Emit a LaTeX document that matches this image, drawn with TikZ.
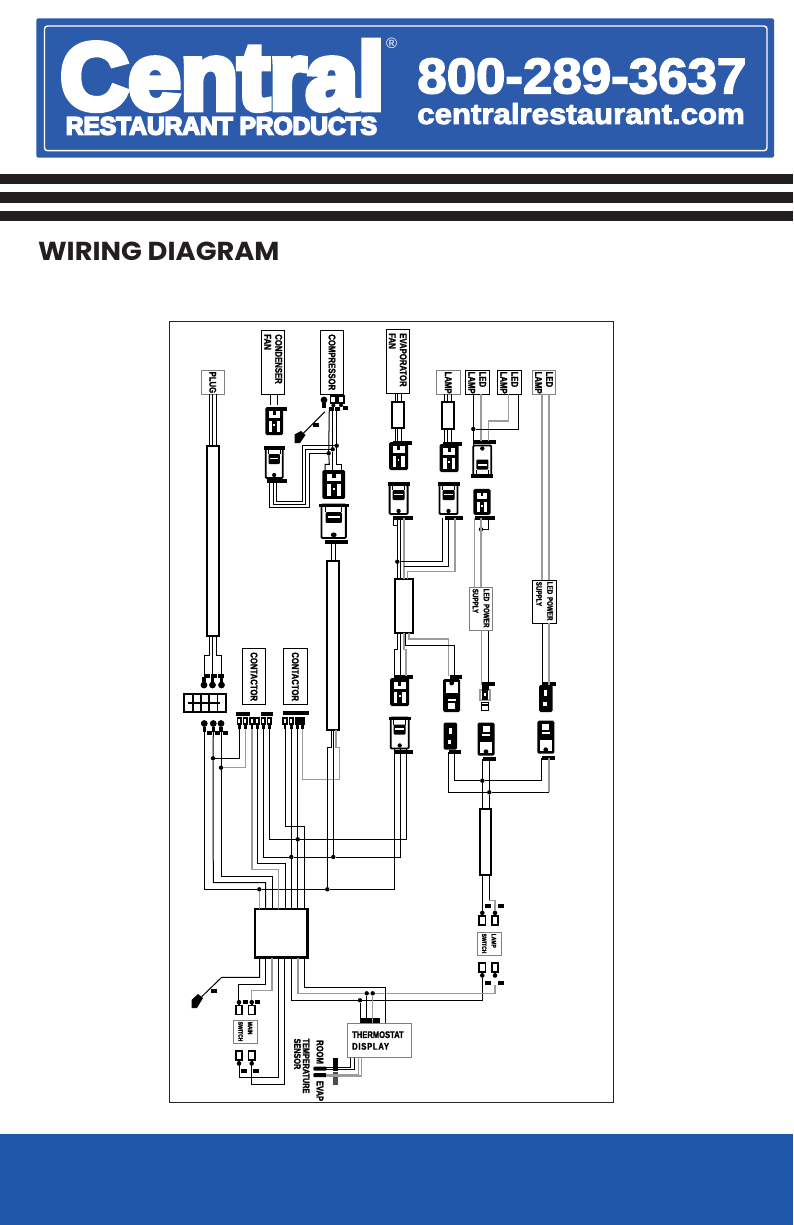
\documentclass[tikz,border=0pt]{standalone}
\usepackage{xcolor}
\usepackage{fontspec}
\newfontfamily\labelfont[FakeStretch=0.79, BoldFeatures={FakeBold=1.5}]{Liberation Sans}
\newfontfamily\logofont[BoldFeatures={FakeBold=3}]{Liberation Sans}
\newfontfamily\heavyfont[BoldFeatures={FakeBold=7}]{Liberation Sans}
\newfontfamily\titlefont{Poppins}
\definecolor{logoblue}{HTML}{2D5BAB}
\definecolor{bandblue}{HTML}{1F57AB}
\definecolor{stripe}{HTML}{231F20}
\definecolor{wiregrey}{HTML}{9C9C9C}
\usetikzlibrary{positioning}

\begin{document}
\begin{tikzpicture}[x=1pt, y=-1pt,
    every node/.style={outer sep=0pt},
    wire/.style={line width=1pt},
    greywire/.style={line width=1.2pt, wiregrey},
    unit/.style 2 args={rectangle, draw, rotate=-90, line width=.9pt, minimum width=#1, minimum height=#2, text width=#1-8, inner xsep=4pt, inner ysep=0pt, align=left, font=\labelfont\bfseries\fontsize{9.8}{11}\selectfont},
    switchbox/.style={rectangle, draw=gray, rotate=-90, line width=.9pt, minimum width=22.6, minimum height=24, text width=20.6, inner xsep=1pt, inner ysep=0pt, align=left, font=\labelfont\bfseries\fontsize{6.3}{9.6}\selectfont},
    bar/.style={rectangle, draw, line width=2pt, inner sep=0pt},
    dot/.style={circle, fill, inner sep=0pt, minimum size=4.4},
    logotext/.style={white, inner sep=0pt, anchor=base west},
    maleplug/.pic={
        \fill[rounded corners=1.5pt] (-9.5,2) rectangle (9.5,30);
        \fill[white] (-6,6) rectangle (6,13);
        \fill (-1.5,6) rectangle (1.5,10);
        \fill[white] (-6,16) rectangle (-2.5,27);
        \fill[white] (2.5,16) rectangle (6,27);
        \fill[white] (-.8,19) rectangle (.8,21);
    },
    femaleplug/.pic={
        \draw[line width=1.8pt, rounded corners=1pt, fill=white] (-9,1) rectangle (9,32);
        \fill (-11,0) rectangle (11,3.5);
        \draw[line width=.8pt] (-6,3) -- (-6,8) (6,3) -- (6,8);
        \fill[rounded corners=1pt] (-6,8) rectangle (6,18);
        \fill[white] (-4.5,11.8) rectangle (4.5,13.2);
        \fill (0,29) circle (2.2);
    },
    lockplug/.pic={
        \fill[rounded corners=1.5pt] (-8.5,0) rectangle (8.5,33);
        \fill[white] (-3.5,3) rectangle (3.5,9.5);
        \fill[white] (-4,11.5) rectangle (4,13.5);
        \fill[white] (-6,19) rectangle (6,30.5);
        \fill (0,29) circle (2.4);
    },
    darkplug/.pic={
        \fill[rounded corners=1.5pt] (-6.8,0) rectangle (6.8,27);
        \fill[white] (-1.5,5) rectangle (1.5,11);
        \fill[white] (-2.5,17) rectangle (1,21);
    },
    slimplug/.pic={
        \draw[wiregrey, line width=1.5pt, fill=white] (-5,5) rectangle (5,15);
        \fill (-3.5,0) rectangle (3.5,5);
        \fill (-3,5) rectangle (3,15);
        \fill[white] (-.8,8) rectangle (.8,11);
        \draw[line width=1pt] (-3.8,17) rectangle (3.8,25);
        \fill (-3.8,18.5) rectangle (3.8,20.5);
    },
    bulb/.pic={
        \fill (-1.8,0) rectangle (1.8,5);
        \fill (0,8) circle (3.4);
    },
    spade/.pic={
        \fill (-2.7,0) rectangle (2.7,8.5);
        \fill[white] (-1,2) rectangle (1,6);
        \fill (-1.4,8) rectangle (1.4,12);
    },
    swlug/.pic={
        \fill (0,2.2) circle (2.3);
        \fill (-1,2) rectangle (1,5);
        \draw[line width=1.7pt, fill=white] (-3.2,5.5) rectangle (3.2,14.5);
    }]

    \useasboundingbox (0,0) rectangle (793,1225);

    % Header
    \fill[logoblue, rounded corners=1.5pt] (36.4,18.3) rectangle (774,157.7);
    \draw[white, line width=1.4pt, rounded corners=3pt] (44.5,26) rectangle (767,150.7);
    \node[logotext, xscale=1] (brand) at (60.5,109) {\heavyfont\bfseries\fontsize{94}{94}\selectfont Central};
    \node[logotext, xscale=.98] (brandsub) at (65.8,134.5) {\heavyfont\bfseries\fontsize{25}{25}\selectfont RESTAURANT PRODUCTS};
    \node[logotext] (regmark) at (386,49) {\logofont\fontsize{15}{15}\selectfont ®};
    \node[logotext, xscale=1.057] (phone) at (417.3,93.3) {\logofont\bfseries\fontsize{50}{50}\selectfont 800-289-3637};
    \node[logotext, xscale=1.075] (website) at (417.3,124) {\logofont\bfseries\fontsize{29}{29}\selectfont centralrestaurant.com};
    \foreach \ya/\yb in {174/184, 192/202.7, 211/220.7}
        \fill[stripe] (0,\ya) rectangle (793,\yb);
    \node[inner sep=0pt, anchor=base west, stripe, xscale=1.05] (heading) at (38,260) {\titlefont\bfseries\fontsize{26}{26}\selectfont WIRING DIAGRAM};
    \fill[bandblue] (0,1134) rectangle (793,1225);
    \draw[line width=.9pt, black!85] (169,321) rectangle (613,1102);

    % Boxes
    \node[unit={64}{23}] (condenser) at (273.2,362.3) {CONDENSER\\FAN};
    \node[unit={64}{23.4}] (compressor) at (332,362.3) {COMPRESSOR};
    \node[unit={64}{23}] (evaporator) at (397.8,361.3) {EVAPORATOR\\FAN};
    \node[unit={23.3}{23}, draw=gray, inner xsep=1pt, text width=21.3] (plug) at (212.8,382.3) {PLUG};
    \node[unit={23.3}{23.3}, draw=gray, inner xsep=1pt, text width=21.3] (lamp) at (448.3,382.3) {LAMP};
    \node[unit={23.6}{23.3}, inner xsep=1pt, text width=21.6] (ledone) at (477.3,382.5) {LED\\LAMP};
    \node[unit={23.6}{24}, inner xsep=1pt, text width=21.6] (ledtwo) at (509.3,382.5) {LED\\LAMP};
    \node[unit={23.6}{23.4}, inner xsep=1pt, text width=21.6, draw=gray] (ledthree) at (544,382.5) {LED\\LAMP};
    \node[unit={43.4}{23.4}, draw=gray, inner xsep=1.5pt, text width=40.4, font=\labelfont\bfseries\fontsize{7.9}{11}\selectfont] (supplyone) at (481,609) {\mbox{LED POWER}\\SUPPLY};
    \node[unit={43}{23.6}, inner xsep=1.5pt, text width=40, font=\labelfont\bfseries\fontsize{7.9}{11}\selectfont] (supplytwo) at (544.5,601.8) {\mbox{LED POWER}\\SUPPLY};
    \node[unit={56}{23.4}] (contactorone) at (254,676.3) {CONTACTOR};
    \node[unit={56}{24}] (contactortwo) at (295.3,676.3) {CONTACTOR};
    \node[switchbox] (mainswitch) at (245.3,1032) {MAIN\\SWITCH};
    \node[switchbox] (lampswitch) at (489,944) {LAMP\\SWITCH};
    \node[rectangle, draw=gray, line width=.9pt, minimum width=64.3, minimum height=34.4, text width=54, inner xsep=5.2pt, inner ysep=0pt, align=left, font=\labelfont\bfseries\fontsize{9.6}{11.7}\selectfont] (thermostat) at (379.2,1040.5) {THERMOSTAT\\\addfontfeature{LetterSpace=8}DISPLAY};
    \node[rotate=-90, inner sep=0pt, font=\labelfont\bfseries\fontsize{9.6}{9}\selectfont] (roomlabel) at (320,1052) {ROOM};
    \node[rotate=-90, inner sep=0pt, font=\labelfont\bfseries\fontsize{9.6}{9}\selectfont] (evaplabel) at (320,1091) {EVAP};
    \node[rotate=-90, inner sep=0pt, align=left, font=\labelfont\bfseries\fontsize{9.2}{8.8}\selectfont] (sensorlabel) at (301.7,1066) {TEMPERATURE\\SENSOR};

    % Bars and hub
    \node[bar, minimum width=12.6, minimum height=190] (mainbar) at (213,541) {};
    \node[bar, minimum width=11.7, minimum height=169.5] (longbar) at (333.2,645.5) {};
    \node[bar, minimum width=17.8, minimum height=54.1] (evapbar) at (403.6,605.6) {};
    \node[bar, minimum width=11.3, minimum height=66.2] (lampbar) at (485.7,841.6) {};
    \node[bar, minimum width=12, minimum height=26.6] (fanbar) at (398.3,415) {};
    \node[bar, minimum width=12.3, minimum height=27.6] (globebar) at (447.8,415.5) {};
    \node[bar, minimum width=52.7, minimum height=48.7, line width=2.4pt] (hub) at (281.3,933.3) {};
    \node[bar, minimum width=41.7, minimum height=18.3] (block) at (204.8,703.2) {};
    \foreach \x in {192.7,200.7,209,217.3} {
        \draw[line width=1.6pt] (\x,694) -- (\x,712.4);
        \draw[line width=1.2pt] (\x-5,703) -- (\x+3,703);
    }

    % Plugs
    \pic[xscale=.93] at (274.2,405) {maleplug};
    \pic[xscale=.95] at (274.2,446) {femaleplug};
    \pic[xscale=1.2, yscale=1.03] at (333.7,468) {maleplug};
    \pic[xscale=1.35, yscale=1.08] at (333.7,503.5) {femaleplug};
    \pic at (398.6,440) {maleplug};
    \pic at (398.6,482) {femaleplug};
    \pic at (449,442) {maleplug};
    \pic at (448.5,482) {femaleplug};
    \pic[yscale=-1] at (482.3,477.5) {femaleplug};
    \pic[xscale=.9, yscale=.93] at (482,487) {maleplug};
    \pic at (399.7,676) {maleplug};
    \pic at (399.7,716.5) {femaleplug};
    \pic[yscale=-1] at (451.7,712) {lockplug};
    \pic at (450.3,722.5) {darkplug};
    \pic at (485,685) {slimplug};
    \pic at (486,722.7) {lockplug};
    \pic at (545.8,685) {darkplug};
    \pic at (545.8,720.7) {lockplug};

    % Terminals
    \foreach \x in {204,212.5,221.5} \pic at (\x,677) {bulb};
    \foreach \x in {204.3,213.3,221} \pic[yscale=-1] at (\x,731.5) {bulb};
    \foreach \x in {239.3,245.3,252,257.3,263.3,269.3,285,291.3,297.7,302.7} \pic at (\x,716.7) {spade};
    \fill (294.5,716.7) rectangle (305.4,725);
    \foreach \x in {239,251.7} {
        \pic at (\x,1000) {swlug};
        \pic[yscale=-1] at (\x,1065.7) {swlug};
    }
    \foreach \x in {482.3,495} {
        \pic at (\x,910.7) {swlug};
        \pic[yscale=-1] at (\x,977.7) {swlug};
    }
    \pic[yscale=-1] at (324,408) {bulb};
    \foreach \x in {333.3,341} \pic[yscale=-1, xscale=.9, yscale=.75] at (\x,407) {swlug};

    % Wire tags
    \foreach \x/\y/\w in {268/406.5/19, 266.7/479/20, 325/540/23.3, 329/407/5, 335/407/5, 343/406/5,
        393.3/441/18.5, 393.3/516/19.5, 443.3/442/18.3, 445/516/17.7, 473.3/439.5/22.3, 475/516/20,
        394/674.5/18.7, 395/749.5/18.3, 450/674.5/11.7, 449/749.5/12, 481.7/682/13.3, 482.7/756.5/13, 543.3/682/12.3, 541.7/755.5/13.3,
        236/711.5/14, 261/711.5/12, 283.3/711/26, 205/674/5, 210.5/674/6, 217.5/674/6, 206.7/731/5, 215/731/5, 222.7/731/5.7,
        485/903.5/6, 497.5/903.5/6, 485/980.5/6, 497.5/980.5/6, 242.5/999.5/5, 255/999.5/5, 241/1069/6, 253/1069/6,
        211/989/6, 313/423/5.5}
        \fill (\x,\y) rectangle ++(\w,4);
    \fill (360,1017.5) rectangle (380,1023);

    % Junctions
    \foreach \name/\pos in {hubA/{259.3,889.3}, hubB/{327.3,889.3}, hubC/{291.3,857}, hubD/{333.3,857}, hubE/{297.7,839.3},
        outA/{213,758.3}, outB/{221,767.7}, fanA/{328.7,453.3}, fanB/{332.7,449.3}, fanC/{336.7,445.7},
        evapA/{397.3,561.7}, ledA/{473.3,429}, ledB/{481,529.3}, lampA/{482.3,780.7}, lampB/{489.3,792.3},
        displayA/{360,1000.3}, displayB/{366.7,993.3}, displayC/{372.7,993.3}}
        \node[dot] (\name) at (\pos) {};

    % Named ends
    \coordinate (lowA) at (394.3,749);
    \coordinate (lowB) at (400.4,749);
    \coordinate (lowC) at (406.7,749);
    \foreach \n/\x in {A/239.3, B/245.3, C/252, D/257.3, E/263.3, F/269.3}
        \coordinate (coilone\n) at (\x,729);
    \foreach \n/\x in {A/285, B/291.3, C/297.7, D/302.7}
        \coordinate (coiltwo\n) at (\x,729);

    % Plug to block
    \foreach \x in {209.5,212.8,216}
        \draw[wire] (plug.east -| \x,0) -- (mainbar.north -| \x,0);
    \draw[wire] (mainbar.south -| 209.3,0) -- ++(0,19.3) -| (204.3,677);
    \draw[wire] (mainbar.south -| 212.8,0) -- (212.8,677);
    \draw[wire] (mainbar.south -| 216.5,0) -- ++(0,19.3) -| (221.5,677);

    % Block to hub and lower connector
    \draw[wire] (204.3,732) |- (hubA) -- (hubB) -| (lowA);
    \draw[wire] (213.3,732) -- (outA) -- (213.3,882.7) -| (hub.north -| 265.7,0);
    \draw[wire] (221,732) -- (outB) -- (221,876) -| (hub.north -| 272,0);
    \draw[greywire] (hubA) -- (hub.north -| hubA);
    \draw[wire] (coiloneA) |- (outA);
    \draw[greywire] (coiloneB) |- (outB);
    \draw[greywire] (coiloneC) |- (278.7,869.3) -- (hub.north -| 278.7,0);
    \draw[wire] (coiloneD) |- (285,863.3) -- (hub.north -| 285,0);
    \draw[wire] (coiloneE) |- (hubC) -- (hubD) -| (lowB);
    \draw[wire] (coiloneF) |- (hubE) -| (lowC);
    \draw[wire] (coiltwoA) |- (304.3,826.7) -- (hub.north -| 304.3,0);
    \draw[wire] (coiltwoB) -- (hub.north -| coiltwoB);
    \draw[wire] (coiltwoC) -- (hub.north -| coiltwoC);
    \draw[greywire] (coiltwoD) |- (339.7,779.3) |- (336,747.7) -- (longbar.south -| 336,0);
    \draw[wire] (longbar.south -| 331,0) -- ++(0,17.7) -| (hubB);
    \draw[wire] (longbar.south -| hubD) -- (hubD);

    % Hub lower side
    \coordinate (gndend) at (201.7,996.7);
    \draw[wire] (hub.south -| 259.7,0) |- (221.7,977.3) -- (gndend);
    \fill (198,994) -- (203,998) -- (197,1008) -- (191.5,1008) -- (191.5,1000) -- cycle;
    \draw[wire] (hub.south -| 265.7,0) |- (238.3,984.3) -- (238.3,1000);
    \draw[greywire] (hub.south -| 272,0) |- (251.7,990.7) -- (251.7,1000);
    \draw[wire] (hub.south -| 278.7,0) |- (239,1077.3) -- (239,1065);
    \draw[wire] (hub.south -| 284.7,0) |- (251.7,1084.3) -- (251.7,1065);
    \draw[wire] (hub.south -| 291.3,0) |- (displayA) -- (482.7,1000.3) -- (482.7,978);
    \draw[greywire] (hub.south -| 298,0) |- (displayB) -- (displayC) -| (495,985);
    \draw[wire] (hub.south -| 304.3,0) |- (385.7,987.3) -- (thermostat.north -| 385.7,0);
    \draw[wire] (displayA) -- (thermostat.north -| displayA);
    \draw[wire] (displayB) -- (thermostat.north -| displayB);
    \draw[greywire] (displayC) -- (thermostat.north -| displayC);

    % Thermostat sensors
    \fill[rounded corners=1pt] (313.3,1066.7) rectangle (326.7,1070.5);
    \fill[rounded corners=1pt] (313.3,1073.2) rectangle (326.7,1077.2);
    \fill (333,1058) rectangle (338,1071);
    \fill[black!70] (333,1072) rectangle (338,1085);
    \draw[wire] (thermostat.south -| 350,0) |- (326,1067.7);
    \draw[wire] (thermostat.south -| 354.3,0) |- (326,1069.5);
    \draw[greywire] (thermostat.south -| 358.3,0) |- (326,1074.3);
    \draw[greywire] (thermostat.south -| 361.7,0) |- (326,1076);

    % Condenser and compressor
    \foreach \x in {270.7,277.3}
        \draw[wire] (condenser.east -| \x,0) -- (\x,405);
    \draw[wire] (269.3,482) |- (309.3,507.3) |- (fanA);
    \draw[wire] (273.3,482) |- (305.7,504.3) |- (fanB);
    \draw[wire] (276.7,482) |- (302,501.7) |- (fanC);
    \draw[wire] (329.3,408) -- (fanA) -- (329.3,464.3) -| (325,470);
    \draw[wire] (332.7,408) -- (fanB) -- (332.7,470);
    \draw[wire] (336.7,408) -- (fanC) -- (336.7,464.3) -| (341.7,470);
    \coordinate (gndtop) at (325,411.7);
    \draw[wire] (gndtop) -- (303.3,433.3);
    \fill (301,431) -- (305.5,435) -- (300,443) -- (294.5,443) -- (294.5,434.5) -- cycle;
    \draw[wire] (331.3,541) -- (longbar.north -| 331.3,0);
    \draw[wire] (335.7,541) -- (longbar.north -| 335.7,0);

    % Evaporator and lamp
    \foreach \x in {395,397.7,401.7} {
        \draw[wire] (evaporator.east -| \x,0) -- (fanbar.north -| \x,0);
        \draw[wire] (fanbar.south -| \x,0) -- (\x,441);
    }
    \foreach \x in {444.3,447.7,451.7} {
        \draw[wire] (lamp.east -| \x,0) -- (globebar.north -| \x,0);
        \draw[wire] (globebar.south -| \x,0) -- (\x,443);
    }
    \draw[wire] (393.5,516) |- (397.3,525) -- (evapA) -- (evapbar.north -| evapA);
    \draw[wire] (397.3,516) -- (397.3,525);
    \draw[wire] (400.7,518) -- (evapbar.north -| 400.7,0);
    \draw[greywire] (404,518) -- (evapbar.north -| 404,0);
    \draw[wire] (442.7,518) |- (evapA);
    \draw[wire] (448.3,518) |- (404,566.7);
    \draw[greywire] (455,518) |- (407.7,571.7) -- (evapbar.north -| 407.7,0);

    % Evaporator bar to lower row
    \draw[wire] (evapbar.south -| 397.3,0) -- ++(0,17) -| (394,676);
    \draw[wire] (evapbar.south -| 400.7,0) -- (400.7,676);
    \draw[greywire] (evapbar.south -| 404,0) -- ++(0,17) -| (406,676);
    \draw[greywire] (evapbar.south -| 409,0) -- ++(0,6.3) -| (448.3,676);
    \draw[wire] (evapbar.south -| 405.3,0) -- ++(0,12.6) -| (454.3,676);

    % LED lamps
    \draw[wire] (ledone.east -| ledA) -- (ledA) -- (473.3,445);
    \draw[greywire] (ledone.east -| 481,0) -- (481,441);
    \draw[greywire] (ledtwo.east -| 508.3,0) |- (488.3,421) -- (488.3,441);
    \draw[wire] (ledtwo.east -| 518.3,0) |- (ledA);
    \foreach \x in {542,549}
        \draw[greywire] (ledthree.east -| \x,0) -- (supplytwo.west -| \x,0);
    \draw[greywire] (474.3,518) -- (supplyone.west -| 474.3,0);
    \draw[greywire] (481,518) -- (supplyone.west -| 481,0);
    \draw[wire] (488.3,518) |- (ledB);
    \draw[greywire] (supplyone.east -| 481.3,0) -- (481.3,685);
    \draw[wire] (supplyone.east -| 488.3,0) -- (488.3,685);
    \draw[wire] (supplytwo.east -| 542.7,0) -- (542.7,685);
    \draw[greywire] (supplytwo.east -| 549,0) -- (549,685);

    % Lamp bar
    \draw[wire] (482.3,759) -- (lampA) -- (lampbar.north -| lampA);
    \draw[wire] (489.3,759) -- (lampB) -- (lampbar.north -| lampB);
    \draw[wire] (454,752) |- (lampA) -- (541.7,780.7) -- (541.7,758);
    \draw[wire] (448.3,752) |- (lampB) -- (549,792.3);
    \draw[greywire] (549,792.3) -- (549,758);
    \draw[wire] (lampbar.south -| 482.3,0) -- (482.3,911);
    \draw[wire] (lampbar.south -| 489.3,0) -- (489.3,900.7);
    \draw[greywire] (489.3,900.7) -| (495,911);
\end{tikzpicture}
\end{document}
